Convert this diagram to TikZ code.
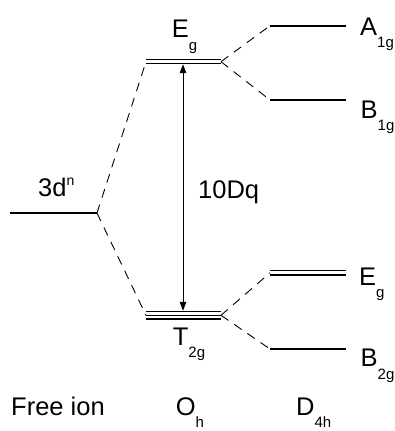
\documentclass[tikz,border=0pt]{standalone}
\usepackage{fontspec}
\setmainfont{Liberation Sans}
\usetikzlibrary{arrows.meta}
\newcommand{\lsub}[1]{\raisebox{-12.5pt}{\fontsize{15}{15}\selectfont #1}}
\newcommand{\lsup}[1]{\raisebox{11pt}{\fontsize{14}{14}\selectfont #1}}
\begin{document}
\begin{tikzpicture}[x=1pt,y=-1pt,
  lbl/.style={anchor=base west,inner sep=0pt,font=\fontsize{25.5}{25.5}\selectfont},
  level/.style={line width=1.6pt},
  thin level/.style={line width=1.3pt},
  conn/.style={line width=0.9pt,dash pattern=on 9pt off 7pt},
  gap/.style={line width=1pt,{Triangle[length=9pt,width=6.5pt]}-{Triangle[length=9pt,width=6.5pt]}}]
\useasboundingbox (0,0) rectangle (395,431);
% free ion
\coordinate (f1) at (10,213);
\coordinate (f2) at (97,213);
\draw[level] (f1) -- (f2);
% Oh Eg (double)
\coordinate (eL) at (146,61.7);
\coordinate (eR) at (221,61.7);
\draw[thin level] ([yshift=-1.9pt]eL) -- ([yshift=-1.9pt]eR);
\draw[thin level] ([yshift=1.9pt]eL) -- ([yshift=1.9pt]eR);
% Oh T2g (triple)
\coordinate (tL) at (146,315.3);
\coordinate (tR) at (221,315.3);
\draw[thin level] ([yshift=-3.8pt]tL) -- ([yshift=-3.8pt]tR);
\draw[thin level] (tL) -- (tR);
\draw[thin level] ([yshift=3.8pt]tL) -- ([yshift=3.8pt]tR);
% D4h levels
\coordinate (aL) at (270,25.7);
\coordinate (aR) at (346,25.7);
\draw[level] (aL) -- (aR);
\coordinate (bL) at (270,100);
\coordinate (bR) at (346,100);
\draw[level] (bL) -- (bR);
\coordinate (gL) at (270,272.8);
\coordinate (gR) at (346,272.8);
\draw[thin level] ([yshift=-2.1pt]gL) -- ([yshift=-2.1pt]gR);
\draw[thin level] ([yshift=2.1pt]gL) -- ([yshift=2.1pt]gR);
\coordinate (cL) at (270,349);
\coordinate (cR) at (346,349);
\draw[level] (cL) -- (cR);
% correlation lines
\draw[conn] (f2) -- (eL);
\draw[conn] (f2) -- (tL);
\draw[conn] (eR) -- (aL);
\draw[conn] (eR) -- (bL);
\draw[conn] (tR) -- (gL);
\draw[conn] (tR) -- (cL);
% 10Dq arrow
\coordinate (u) at (183,64.2);
\coordinate (d) at (183,310.8);
\draw[gap] (u) -- (d);
% labels
\node[lbl] (l3d) at (38,196) {3d\lsup{n}};
\node[lbl] (lDq) at (198,198) {10Dq};
\node[lbl] (lEg) at (171.7,37.7) {E\lsub{g}};
\node[lbl] (lT) at (172.7,345) {T\lsub{2g}};
\node[lbl] (lA) at (360,35) {A\lsub{1g}};
\node[lbl] (lB1) at (360.5,118) {B\lsub{1g}};
\node[lbl] (lE2) at (359,285) {E\lsub{g}};
\node[lbl] (lB2) at (360.5,366.7) {B\lsub{2g}};
\node[lbl] (lfree) at (11,415) {Free ion};
\node[lbl] (lOh) at (175.7,415) {O\lsub{h}};
\node[lbl] (lD) at (296,415) {D\lsub{4h}};
\end{tikzpicture}
\end{document}
